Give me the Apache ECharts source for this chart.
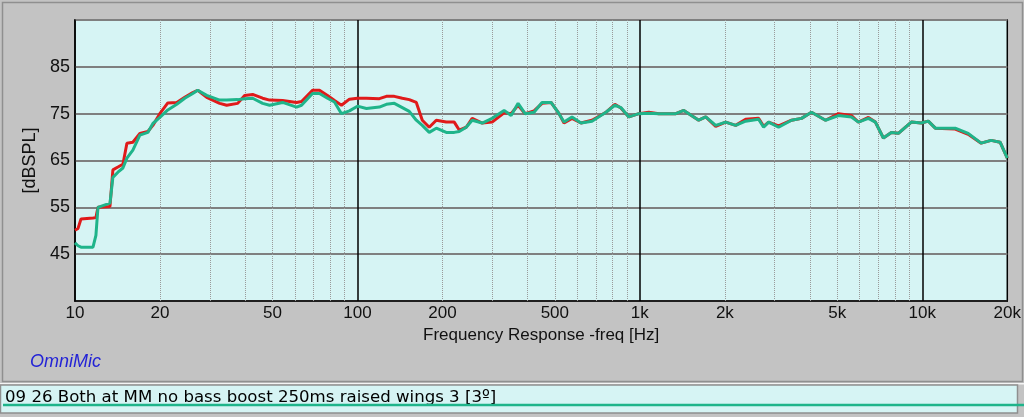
<!DOCTYPE html>
<html>
<head>
<meta charset="utf-8">
<script src="https://cdn.jsdelivr.net/npm/echarts@6/dist/echarts.min.js"></script>
<style>
  html, body { margin: 0; padding: 0; background: #c3c3c3; }
  #chart { width: 1024px; height: 417px; }
</style>
</head>
<body>
<div id="chart"></div>
<script>
// frequency points [Hz] and the two measured curves [dBSPL]
const freqHz = [10, 10.25, 10.5, 11.58, 11.86, 12.06, 13.3, 13.62, 14.19, 14.78, 15.27, 16.03, 16.97, 18.11, 18.87, 19.97,
  21.31, 22.93, 24.47, 26.12, 27.2, 29.27, 32.53, 34.44, 37.67, 39.87, 42.56, 46.17, 48.87, 54.33, 60.88, 63.4,
  69.34, 73.39, 78.34, 82.93, 87.8, 93.7, 100, 107.6, 119.6, 126.6, 135.1, 144.2, 152.6, 161.6, 169.7, 179.6,
  190.2, 206.3, 220.2, 229.3, 242.8, 254.9, 276.6, 299.9, 330.6, 350.1, 370.6, 392.4, 422.1, 450.6, 484.8, 517.4,
  538.8, 575.1, 618.7, 676.9, 758.6, 815.8, 856.6, 914.4, 992, 1076, 1167, 1341, 1431, 1616, 1711, 1856,
  2013, 2184, 2369, 2633, 2743, 2857, 3099, 3444, 3736, 4053, 4542, 5049, 5612, 5941, 6446, 6823,
  7282, 7773, 8229, 9145, 9920, 10500, 11120, 13080, 14540, 16160, 17530, 18860, 20000];

const redDb = [50.1, 50.5, 52.5, 52.7, 52.8, 55, 55.2, 63, 63.6, 64.2, 68.7, 68.9, 70.8, 71.2, 72.5, 75,
  77.3, 77.4, 78.5, 79.5, 80, 78.5, 77.2, 76.8, 77.2, 78.9, 79.1, 78.3, 77.9, 77.8, 77.4, 77.6,
  80, 80, 78.9, 77.8, 76.8, 78.1, 78.3, 78.3, 78.2, 78.7, 78.7, 78.3, 78, 77.4, 73.6, 72.1,
  73.6, 73.2, 73.2, 71.5, 72.1, 74, 73, 73.2, 75.2, 75, 76.8, 75, 75.6, 77.2, 77.4, 75,
  73, 74, 73, 73.6, 75.3, 77, 76.2, 74.3, 75, 75.3, 75, 75, 75.7, 73.6, 74.3, 72.3,
  73.2, 72.5, 73.8, 74, 72.3, 73.2, 72.4, 73.6, 74, 75.3, 73.6, 75, 74.6, 73.2, 74.2, 73.2,
  69.8, 71, 70.8, 73.2, 73, 73.4, 71.9, 71.7, 70.6, 68.7, 69.3, 68.9, 65.5];

const greenDb = [47.4, 46.8, 46.5, 46.5, 49, 55, 55.9, 61.4, 62.5, 63.4, 65.5, 67.2, 70.4, 71, 72.9, 74.2,
  75.8, 77, 78.3, 79.3, 80, 78.9, 77.9, 77.9, 78, 78.2, 78.3, 77.2, 76.8, 77.4, 76.4, 76.8,
  79.3, 79.3, 78.3, 77.5, 75, 75.6, 76.6, 76.1, 76.4, 77, 77.2, 76.3, 75.5, 73.6, 72.5, 71,
  71.9, 71, 71, 71.2, 72.1, 73.6, 73, 74, 75.7, 74.6, 77.2, 75, 75.3, 77.4, 77.4, 75,
  73.2, 74.3, 73, 73.4, 75.3, 76.8, 76.3, 74.3, 75, 75.1, 75, 75, 75.7, 73.6, 74.3, 72.5,
  73.2, 72.5, 73.4, 73.8, 72.1, 73.2, 72.1, 73.6, 74, 75.3, 73.6, 74.6, 74.3, 73.2, 74, 73.2,
  69.8, 71, 70.8, 73.2, 73, 73.4, 71.9, 71.9, 70.8, 68.7, 69.3, 68.9, 65.5];

// axis labels and grid lines
const freqLabels = [10, 20, 50, 100, 200, 500, 1000, 2000, 5000, 10000, 20000];
const decadeLines = [100, 1000, 10000];
const minorLines = [20, 30, 40, 50, 60, 70, 80, 90, 200, 300, 400, 500, 600, 700, 800, 900,
  2000, 3000, 4000, 5000, 6000, 7000, 8000, 9000];

const legendText = '09 26 Both at MM no bass boost 250ms raised wings 3 [3\u00ba]';

const chart = echarts.init(document.getElementById('chart'));
const font = '"Liberation Sans", Arial, sans-serif';

chart.setOption({
  backgroundColor: '#c3c3c3',
  animation: false,
  textStyle: { fontFamily: font },
  grid: {
    left: 75, right: 14, top: 20, bottom: 116,
    show: true,
    backgroundColor: '#d6f4f4',
    borderColor: '#000',
    borderWidth: 1.5
  },
  xAxis: {
    type: 'log',
    logBase: 10,
    min: 10,
    max: 20000,
    name: 'Frequency Response -freq [Hz]',
    nameLocation: 'middle',
    nameGap: 26,
    nameTextStyle: { color: '#111', fontSize: 17, fontFamily: font },
    axisLine: { lineStyle: { color: '#000', width: 1.5 } },
    axisTick: { show: false },
    splitLine: { show: false },
    axisLabel: {
      customValues: freqLabels,
      color: '#111',
      fontSize: 17,
      margin: 4,
      formatter: v => v >= 1000 ? (v / 1000) + 'k' : String(v)
    }
  },
  yAxis: {
    type: 'value',
    min: 35,
    max: 95,
    interval: 10,
    name: '[dBSPL]',
    nameLocation: 'middle',
    nameGap: 32,
    nameTextStyle: { color: '#111', fontSize: 18, fontFamily: font },
    axisLine: { show: true, lineStyle: { color: '#000', width: 1.5 } },
    axisTick: { show: false },
    splitLine: { lineStyle: { color: '#7f7f7f', width: 2 } },
    axisLabel: {
      color: '#111',
      fontSize: 18,
      margin: 5,
      formatter: v => (v === 35 || v === 95) ? '' : String(v)
    }
  },
  graphic: [
    { type: 'rect', silent: true, shape: { x: 2.5, y: 2.5, width: 1020, height: 379 },
      style: { fill: 'none', stroke: '#8f8f8f', lineWidth: 1.5 } },
    { type: 'rect', silent: true, shape: { x: 0, y: 383, width: 1024, height: 1.5 },
      style: { fill: '#f4f4f4' } },
    { type: 'rect', silent: true, shape: { x: 0.5, y: 385, width: 1017, height: 28 },
      style: { fill: '#d6f4f4', stroke: '#8f8f8f', lineWidth: 1.5 } },
    { type: 'text', silent: true, left: 5, top: 389,
      style: { text: legendText, fill: '#000', font: '16.6px "DejaVu Sans", sans-serif' } },
    { type: 'line', silent: true, shape: { x1: 3, y1: 405, x2: 1024, y2: 405 },
      style: { stroke: '#1fb48a', lineWidth: 2.5 } },
    { type: 'text', silent: true, left: 30, top: 353,
      style: { text: 'OmniMic', fill: '#2323d6', font: 'italic 18px ' + font } }
  ],
  series: [
    {
      name: 'red',
      type: 'line',
      data: freqHz.map((f, i) => [f, redDb[i]]),
      showSymbol: false,
      lineStyle: { color: '#e01a1a', width: 3 },
      z: 3,
      markLine: {
        silent: true,
        z: 1,
        symbol: 'none',
        label: { show: false },
        data: minorLines.map(f => ({ xAxis: f, lineStyle: { color: '#9a9a9a', width: 1, type: 'dotted' } }))
          .concat(decadeLines.map(f => ({ xAxis: f, lineStyle: { color: '#000', width: 1.5, type: 'solid' } })))
      }
    },
    {
      name: 'green',
      type: 'line',
      data: freqHz.map((f, i) => [f, greenDb[i]]),
      showSymbol: false,
      lineStyle: { color: '#1fb48a', width: 3 },
      z: 4
    }
  ]
});
</script>
</body>
</html>
